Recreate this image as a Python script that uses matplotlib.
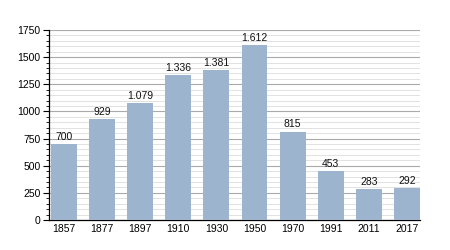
import matplotlib
matplotlib.use("Agg")
import matplotlib.pyplot as plt
from matplotlib.ticker import MultipleLocator

# dati
anni = ["1857", "1877", "1897", "1910", "1930", "1950", "1970", "1991", "2011", "2017"]
abitanti = [700, 929, 1079, 1336, 1381, 1612, 815, 453, 283, 292]

plt.rcParams['font.family'] = ['Liberation Sans', 'DejaVu Sans']

fig = plt.figure(figsize=(4.5, 2.5), dpi=100)
ax = fig.add_axes([49 / 450, 30 / 250, 371 / 450, 190 / 250])

x = range(len(anni))
ax.bar(x, abitanti, width=0.68, color='#9cb4cd', zorder=3)

for i, v in enumerate(abitanti):
    testo = f"{v:,}".replace(",", ".")
    ax.text(i, v + 20, testo, ha='center', va='bottom', fontsize=7.5, color='#111111', zorder=4)

ax.set_xlim(-0.39, 9.34)
ax.set_ylim(0, 1750)
ax.set_xticks(list(x))
ax.set_xticklabels(anni, fontsize=7.5)
ax.yaxis.set_major_locator(MultipleLocator(250))
ax.yaxis.set_minor_locator(MultipleLocator(50))
ax.tick_params(axis='y', which='major', labelsize=7.5, length=4, width=0.8, pad=2)
ax.tick_params(axis='y', which='minor', length=2, width=0.6)
ax.tick_params(axis='x', length=0, pad=3)

ax.grid(axis='y', which='major', color='#aaaaaa', linewidth=0.8, zorder=0)
ax.grid(axis='y', which='minor', color='#dddddd', linewidth=0.6, zorder=0)

for s in ['top', 'right']:
    ax.spines[s].set_visible(False)
ax.spines['left'].set_linewidth(0.9)
ax.spines['bottom'].set_linewidth(0.9)

fig.savefig("out.png", dpi=100)
